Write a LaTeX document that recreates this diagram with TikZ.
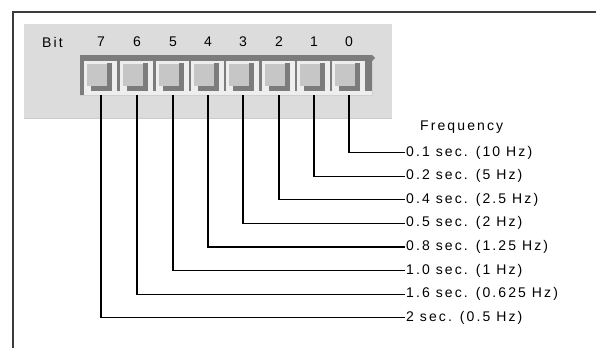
\documentclass[tikz,border=0pt]{standalone}
\usepackage{fontspec}
\setmainfont{Liberation Sans}[LetterSpace=15]
\usepackage{tikz}
\usetikzlibrary{positioning}

\definecolor{panelgray}{HTML}{DCDCDC}
\definecolor{keydark}{HTML}{7C7C7C}
\definecolor{keylight}{HTML}{EEEEEE}
\definecolor{keyface}{HTML}{C6C6C6}
\definecolor{framegray}{HTML}{3C3C3C}

\begin{document}
\begin{tikzpicture}[
  x=1pt, y=-1pt,
  font=\fontsize{14}{16}\selectfont,
  bitnum/.style={inner sep=0pt, anchor=center},
  freq/.style={anchor=west, inner sep=1pt},
  wire/.style={line width=1.2pt, black},
  switch/.pic={
    \fill[keylight] (-17,61) rectangle (16,95);
    \fill[keyface] (-14,64) rectangle (6,86);
    \fill[keydark] (6,63) rectangle (11,91);
    \fill[keydark] (-10,86) rectangle (11,91);
    \coordinate (-out) at (0,95);
  }
]
\useasboundingbox (0,0) rectangle (596,348);

% outer frame and dip switch panel
\draw[framegray, line width=1.5pt] (596,12) -- (13,12) -- (13,348);
\fill[panelgray] (24,24) rectangle (392,118);
\draw[gray!40] (24,118) -- (392,118);
\fill[keydark] (80,55) -- (372,55) -- (375,58) -- (372,61) -- (372,95) -- (80,95) -- cycle;
\fill[keylight] (84,91) rectangle (372,95);

\pic (s7) at (101,0) {switch};
\pic (s6) at (137,0) {switch};
\pic (s5) at (173,0) {switch};
\pic (s4) at (208,0) {switch};
\pic (s3) at (243,0) {switch};
\pic (s2) at (279,0) {switch};
\pic (s1) at (314,0) {switch};
\pic (s0) at (349,0) {switch};

\node[anchor=west, inner sep=0pt] (bit) at (42,42) {Bit};
\node[bitnum] (b7) at (101,42) {7};
\node[bitnum] (b6) at (137,42) {6};
\node[bitnum] (b5) at (173,42) {5};
\node[bitnum] (b4) at (208,42) {4};
\node[bitnum] (b3) at (243,42) {3};
\node[bitnum] (b2) at (279,42) {2};
\node[bitnum] (b1) at (314,42) {1};
\node[bitnum] (b0) at (349,42) {0};

% frequency list
\node[anchor=west, inner sep=0pt] (freqhead) at (420,127) {Frequency};
\node[freq] (f0) at (405,152.5) {0.1 sec. (10 Hz)};
\node[freq] (f1) at (405,176.1) {0.2 sec. (5 Hz)};
\node[freq] (f2) at (405,199.7) {0.4 sec. (2.5 Hz)};
\node[freq] (f3) at (405,223.3) {0.5 sec. (2 Hz)};
\node[freq] (f4) at (405,246.9) {0.8 sec. (1.25 Hz)};
\node[freq] (f5) at (405,270.5) {1.0 sec. (1 Hz)};
\node[freq] (f6) at (405,294.1) {1.6 sec. (0.625 Hz)};
\node[freq] (f7) at (405,317.7) {2 sec. (0.5 Hz)};

\draw[wire] (s0-out) |- (f0.west);
\draw[wire] (s1-out) |- (f1.west);
\draw[wire] (s2-out) |- (f2.west);
\draw[wire] (s3-out) |- (f3.west);
\draw[wire] (s4-out) |- (f4.west);
\draw[wire] (s5-out) |- (f5.west);
\draw[wire] (s6-out) |- (f6.west);
\draw[wire] (s7-out) |- (f7.west);
\end{tikzpicture}
\end{document}
